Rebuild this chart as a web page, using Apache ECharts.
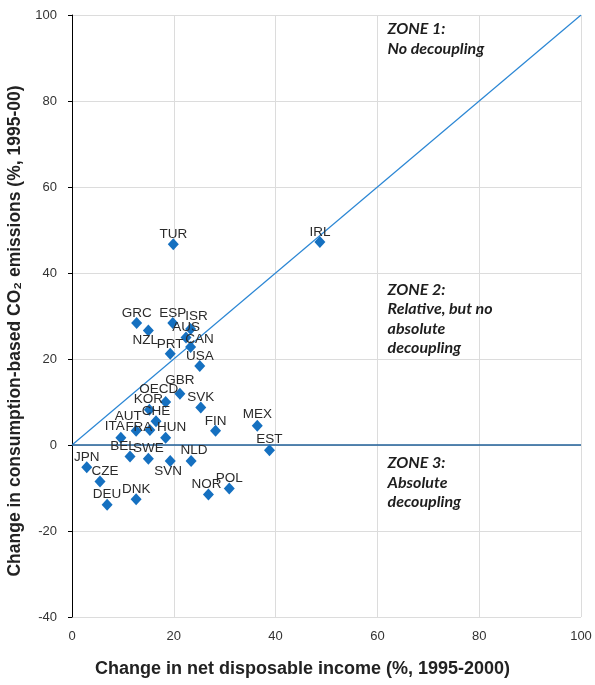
<!DOCTYPE html>
<html>
<head>
<meta charset="utf-8">
<script src="https://cdn.jsdelivr.net/npm/echarts@6/dist/echarts.min.js"></script>
<style>
  html, body { margin: 0; padding: 0; background: #fff; }
  #chart { width: 595px; height: 685px; }
</style>
</head>
<body>
<div id="chart"></div>
<script>
// Countries and their changes, 1995-2000 (%)
const countries = ['GRC','NZL','ESP','ISR','AUS','CAN','PRT','USA','TUR','IRL','GBR','OECD','KOR','CHE','SVK','FIN','MEX','EST','AUT','ITA','FRA','HUN','BEL','SWE','SVN','NLD','JPN','CZE','DEU','DNK','NOR','POL'];
const incomeChange = [12.7, 15.0, 19.8, 23.3, 22.4, 23.3, 19.3, 25.1, 19.9, 48.7, 21.2, 18.4, 15.2, 16.5, 25.3, 28.2, 36.4, 38.8, 12.6, 9.6, 15.3, 18.4, 11.4, 15.0, 19.3, 23.4, 2.9, 5.5, 6.9, 12.6, 26.8, 30.9];
const co2Change = [28.4, 26.6, 28.4, 27.0, 25.0, 22.8, 21.2, 18.4, 46.7, 47.2, 11.9, 10.0, 8.2, 5.5, 8.7, 3.3, 4.5, -1.2, 3.3, 1.7, 3.5, 1.7, -2.7, -3.2, -3.7, -3.7, -5.2, -8.5, -13.9, -12.6, -11.5, -10.1];

// Axis ticks
const xTicks = [0, 20, 40, 60, 80, 100];
const yTicks = [-40, -20, 0, 20, 40, 60, 80, 100];

// Zone annotations (anchored at the top-left of each block, in data units)
const zones = [
  { lines: ['ZONE 1:', 'No decoupling'], x: 62, y: 99.0 },
  { lines: ['ZONE 2:', 'Relative, but no', 'absolute', 'decoupling'], x: 62, y: 38.4 },
  { lines: ['ZONE 3:', 'Absolute', 'decoupling'], x: 62, y: -1.9 }
];

// Country label nudges (px from the marker centre); default sits just above
const labelNudge = {
  ISR: [6, -13], CAN: [9, -8], NZL: [-3, 10], GBR: [0, -14], OECD: [-7, -13],
  KOR: [-1, -10], AUT: [-8, -15], ITA: [-6, -11], FRA: [-11, -3], HUN: [6, -10],
  BEL: [-7, -10], SVN: [-2, 10], NLD: [3, -11], CZE: [5, -10], NOR: [-2, -10],
  MEX: [0, -11], EST: [0, -11]
};

const narrow = '"Liberation Sans Narrow", "Arial Narrow", "Liberation Sans", sans-serif';

const points = countries.map((c, i) => ({ name: c, value: [incomeChange[i], co2Change[i]] }));

const chart = echarts.init(document.getElementById('chart'), null, { renderer: 'canvas' });

chart.setOption({
  animation: false,
  backgroundColor: '#fff',
  grid: { left: 72, right: 14, top: 15, bottom: 68, containLabel: false, outerBoundsMode: 'none' },
  xAxis: {
    type: 'value', min: xTicks[0], max: xTicks[xTicks.length - 1], interval: 20,
    axisLine: { show: false },
    axisTick: { show: false },
    axisLabel: { color: '#333', fontFamily: narrow, fontSize: 13, margin: 13 },
    splitLine: { show: true, lineStyle: { color: '#dcdcdc', width: 1 } },
    name: 'Change in net disposable income (%, 1995-2000)',
    nameLocation: 'middle', nameGap: 43,
    nameTextStyle: { color: '#222', fontFamily: narrow, fontSize: 18, fontWeight: 'bold', padding: [0, 48, 0, 0] }
  },
  yAxis: {
    type: 'value', min: yTicks[0], max: yTicks[yTicks.length - 1], interval: 20,
    axisLine: { show: true, onZero: false, lineStyle: { color: '#000', width: 1 } },
    axisTick: { show: true, length: 4, lineStyle: { color: '#000' } },
    axisLabel: { color: '#333', fontFamily: narrow, fontSize: 13, margin: 15 },
    splitLine: { show: true, lineStyle: { color: '#dcdcdc', width: 1 } },
    name: 'Change in consumption-based CO\u2082 emissions (%, 1995-00)',
    nameLocation: 'middle', nameGap: 44,
    nameTextStyle: { color: '#222', fontFamily: narrow, fontSize: 17.5, fontWeight: 'bold', padding: [0, 30, 0, 0] }
  },
  series: [
    {
      // y = x reference line
      type: 'line', data: [[0, 0], [100, 100]], symbol: 'none', silent: true,
      lineStyle: { color: '#2a86d4', width: 1.2 }, z: 2
    },
    {
      // zero-change line
      type: 'line', data: [[0, 0], [100, 0]], symbol: 'none', silent: true,
      lineStyle: { color: '#1f5f98', width: 1.4 }, z: 2
    },
    {
      type: 'scatter',
      symbol: 'diamond', symbolSize: [11, 12],
      itemStyle: { color: '#1570c0', opacity: 1 },
      data: points,
      z: 3,
      label: {
        show: true, position: 'inside',
        formatter: p => p.name,
        color: '#2b2b2b', fontFamily: narrow, fontSize: 13.5,
        textBorderWidth: 0
      },
      labelLayout: p => {
        const n = labelNudge[countries[p.dataIndex]] || [0, -10];
        return { dx: n[0], dy: n[1], hideOverlap: false };
      }
    }
  ]
});

// Zone notes placed at data coordinates
const zoneFont = '"Lato", "Open Sans", sans-serif';
chart.setOption({
  graphic: zones.map(z => {
    const pt = chart.convertToPixel({ gridIndex: 0 }, [z.x, z.y]);
    return {
      type: 'text', x: pt[0], y: pt[1], silent: true,
      style: {
        text: z.lines.join('\n'),
        fill: '#1e1e1e',
        font: 'italic bold 16px ' + zoneFont,
        lineHeight: 19.5,
        textAlign: 'left', textVerticalAlign: 'top'
      }
    };
  })
});
</script>
</body>
</html>
